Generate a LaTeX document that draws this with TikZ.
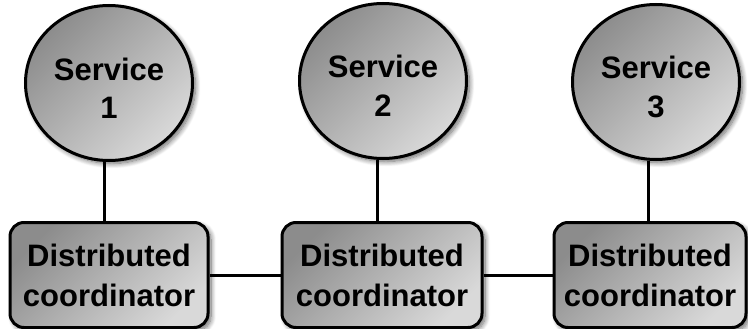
\documentclass[tikz,border=0pt]{standalone}
\usepackage{fontspec}
\setmainfont{Liberation Sans}
\usetikzlibrary{shapes.geometric,shadows.blur,calc}

\tikzset{
  softshadow/.style={blur shadow={shadow xshift=3pt, shadow yshift=-3pt,
      shadow blur radius=5pt, shadow blur steps=10, shadow opacity=60}},
  graded/.style={top color=black!45, bottom color=black!15, shading angle=45},
  svc/.style={ellipse, draw=black, line width=3pt, graded, softshadow,
      minimum width=167pt, minimum height=155pt, inner sep=0pt,
      align=center, font=\bfseries\fontsize{31}{39}\selectfont},
  coord/.style={rectangle, rounded corners=14pt, draw=black, line width=3pt,
      graded, softshadow, minimum height=105pt, inner sep=0pt,
      align=center, font=\bfseries\fontsize{31}{40}\selectfont},
  conn/.style={draw=black, line width=3pt},
}
% taller first line so the service labels sit a little below centre
\newcommand{\svctop}{\rule{0pt}{33pt}}

\begin{document}
\begin{tikzpicture}[x=1pt, y=-1pt]
  \useasboundingbox (0,0) rectangle (748,329);

  % service nodes
  \node[svc] (c1) at (109,83) {\svctop Service\\1};
  \node[svc] (c2) at (383,81) {\svctop Service\\2};
  \node[svc] (c3) at (656,82) {\svctop Service\\3};

  % coordinator nodes
  \node[coord, minimum width=198pt] (b1) at (109,275) {Distributed\\coordinator};
  \node[coord, minimum width=200pt] (b2) at (382,275) {Distributed\\coordinator};
  \node[coord, minimum width=192pt] (b3) at (650,275) {Distributed\\coordinator};

  % each service hangs from its coordinator
  \draw[conn] ([xshift=-5pt]c1.south) -- ([xshift=-5pt]c1.south |- b1.north);
  \draw[conn] ([xshift=-6pt]c2.south) -- ([xshift=-6pt]c2.south |- b2.north);
  \draw[conn] ([xshift=-8pt]c3.south) -- ([xshift=-8pt]c3.south |- b3.north);

  % coordinators linked in a chain
  \draw[conn] (b1) -- (b2);
  \draw[conn] (b2) -- (b3);
\end{tikzpicture}
\end{document}
